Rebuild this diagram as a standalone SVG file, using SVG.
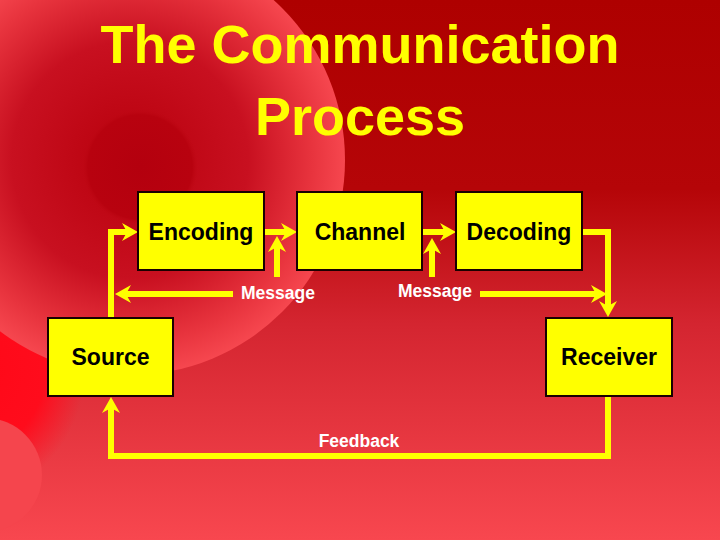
<svg xmlns="http://www.w3.org/2000/svg" width="720" height="540" viewBox="0 0 720 540">
<style>
.title{font-family:"Liberation Sans",Arial,sans-serif;font-weight:bold;font-size:54px;fill:#ffff00;text-anchor:middle}
.box{fill:#ffff00;stroke:#1a0000;stroke-width:2}
.lbl{font-family:"Liberation Sans",Arial,sans-serif;font-weight:bold;font-size:23px;fill:#000;text-anchor:middle}
.msg{font-family:"Liberation Sans",Arial,sans-serif;font-weight:bold;font-size:17.5px;fill:#ffffff;text-anchor:middle}
.conn{fill:none;stroke:#ffff00;stroke-width:6;stroke-linejoin:miter;marker-end:url(#arr)}
</style>
<defs>
<linearGradient id="bg" x1="0" y1="0" x2="0" y2="1">
<stop offset="0" stop-color="#ae0000"/>
<stop offset="0.35" stop-color="#b50508"/>
<stop offset="0.6" stop-color="#d42530"/>
<stop offset="1" stop-color="#f8474f"/>
</linearGradient>
<radialGradient id="big" cx="0.5" cy="0.5" r="0.5">
<stop offset="0" stop-color="#b8000c"/>
<stop offset="0.55" stop-color="#c81020"/>
<stop offset="0.85" stop-color="#e8343e"/>
<stop offset="1" stop-color="#f6474f"/>
</radialGradient>
<radialGradient id="inner" cx="0.5" cy="0.5" r="0.5">
<stop offset="0" stop-color="#b4000e"/>
<stop offset="0.9" stop-color="#b8020f"/>
<stop offset="1" stop-color="#bf0814" stop-opacity="0"/>
</radialGradient>
<radialGradient id="bright" cx="0.5" cy="0.5" r="0.5">
<stop offset="0" stop-color="#ff0818"/>
<stop offset="0.65" stop-color="#ff0c1c"/>
<stop offset="1" stop-color="#ff1020" stop-opacity="0"/>
</radialGradient>
<marker id="arr" markerUnits="userSpaceOnUse" markerWidth="18" markerHeight="18" refX="8" refY="9" orient="auto" viewBox="0 0 16 18">
<path d="M0,0 L16,9 L0,18 L5,9 Z" fill="#ffff00"/>
</marker>
</defs>
<rect x="0" y="0" width="720" height="540" fill="url(#bg)"/>
<ellipse cx="-30" cy="370" rx="115" ry="125" fill="url(#bright)"/>
<circle cx="130" cy="160" r="215" fill="url(#big)"/>
<circle cx="140" cy="167" r="58" fill="url(#inner)"/>
<circle cx="-15" cy="475" r="57" fill="#f5454d"/>

<text class="title" x="360" y="63">The Communication</text>
<text class="title" x="360" y="135">Process</text>

<g id="connectors">
<path class="conn" d="M111,318 V232 H130"/>
<path class="conn" d="M233,294 H123"/>
<path class="conn" d="M264,232 H289"/>
<path class="conn" d="M277,277 V244"/>
<path class="conn" d="M422,232 H448"/>
<path class="conn" d="M432,277 V246"/>
<path class="conn" d="M480,294 H599"/>
<path class="conn" d="M582,232 H608 V309"/>
<path class="conn" d="M608,396 V456 H111 V405"/>
<text class="msg" x="278" y="299">Message</text>
<text class="msg" x="435" y="297">Message</text>
<text class="msg" x="359" y="447">Feedback</text>
</g>

<g id="encoding">
<rect class="box" x="138" y="192" width="126" height="78"/>
<text class="lbl" x="201" y="240">Encoding</text>
</g>
<g id="channel">
<rect class="box" x="297" y="192" width="125" height="78"/>
<text class="lbl" x="360" y="240">Channel</text>
</g>
<g id="decoding">
<rect class="box" x="456" y="192" width="126" height="78"/>
<text class="lbl" x="519" y="240">Decoding</text>
</g>
<g id="source">
<rect class="box" x="48" y="318" width="125" height="78"/>
<text class="lbl" x="110.5" y="365">Source</text>
</g>
<g id="receiver">
<rect class="box" x="546" y="318" width="126" height="78"/>
<text class="lbl" x="609" y="365">Receiver</text>
</g>
</svg>
